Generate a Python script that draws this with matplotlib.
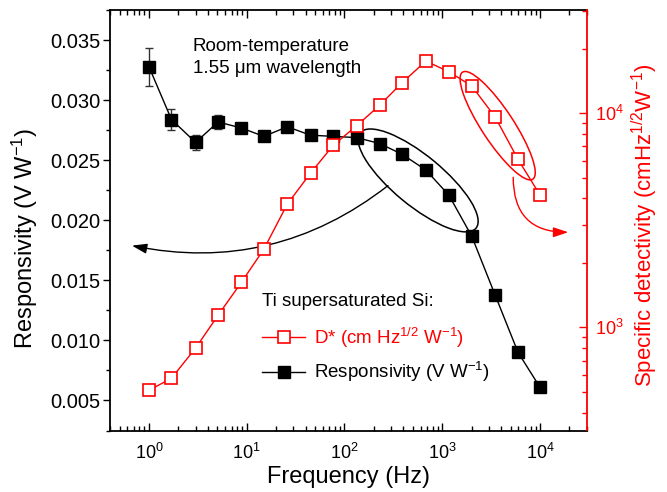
import numpy as np
import matplotlib.pyplot as plt
from matplotlib.patches import Ellipse
from matplotlib.lines import Line2D
from matplotlib.transforms import ScaledTranslation
from matplotlib.ticker import MultipleLocator, LogLocator, NullFormatter

plt.rcParams['font.family'] = ['Liberation Sans', 'DejaVu Sans']
plt.rcParams['mathtext.fontset'] = 'custom'
plt.rcParams['mathtext.rm'] = 'Liberation Sans'
plt.rcParams['mathtext.it'] = 'Liberation Sans:italic'
plt.rcParams['mathtext.bf'] = 'Liberation Sans:bold'

# data
freq = [1, 1.7, 3, 5.1, 8.8, 15, 26, 45, 77, 133, 230, 390, 680, 1170, 2000, 3470, 5970, 10000]
resp = [0.0328, 0.0284, 0.0265, 0.0282, 0.0277, 0.0270, 0.0278, 0.0271, 0.0270,
        0.0269, 0.0264, 0.0255, 0.0242, 0.0221, 0.0187, 0.0138, 0.0090, 0.0061]
resp_err = [0.0016, 0.0009, 0.0006, 0.0006, 0.0003, 0.0002, 0.0002, 0.0002, 0.0002,
            0.0002, 0.0002, 0.0002, 0.0002, 0.0002, 0.0002, 0.0002, 0.0002, 0.0002]
dstar = [508, 579, 800, 1140, 1620, 2320, 3760, 5250, 7090,
         8730, 10900, 13900, 17500, 15600, 13400, 9610, 6080, 4150]

RED = '#ff0000'

fig = plt.figure(figsize=(6.67, 4.92), dpi=100)
ax = fig.add_axes([0.165, 0.125, 0.7145, 0.854])
ax2 = ax.twinx()

# responsivity (left axis)
ax.errorbar(freq, resp, yerr=resp_err, fmt='s-', color='black', ms=9, lw=1,
            ecolor='#333333', elinewidth=1, capsize=3, capthick=1, zorder=3)
ax.set_xscale('log')
ax.set_xlim(0.4, 3e4)
ax.set_ylim(0.0025, 0.0375)
ax.yaxis.set_major_locator(MultipleLocator(0.005))
ax.yaxis.set_minor_locator(MultipleLocator(0.0025))
ax.yaxis.set_major_formatter(plt.FormatStrFormatter('%.3f'))
ax.xaxis.set_minor_locator(LogLocator(base=10, subs=np.arange(2, 10)))
ax.xaxis.set_minor_formatter(NullFormatter())
ax.tick_params(axis='x', which='both', direction='in', top=True, labelsize=13, pad=9)
ax.tick_params(axis='x', which='major', length=6, width=1)
ax.tick_params(axis='x', which='minor', length=3.5, width=1)
ax.tick_params(axis='y', which='both', direction='out', right=False, labelsize=14.5, pad=2)
ax.tick_params(axis='y', which='major', length=5, width=1)
ax.tick_params(axis='y', which='minor', length=3, width=1)
ax.set_xlabel('Frequency (Hz)', fontsize=17, labelpad=2)
ax.set_ylabel('Responsivity (V W$^{-1}$)', fontsize=17)
ax.yaxis.set_label_coords(-0.148, 0.458)
ax.spines['right'].set_visible(False)
for s in ['left', 'top', 'bottom']:
    ax.spines[s].set_linewidth(1.3)

# specific detectivity (right axis)
ax2.plot(freq, dstar, 's-', color=RED, mfc='white', mec=RED, ms=9, mew=1.2, lw=1)
ax2.set_yscale('log')
ax2.set_ylim(330, 30200)
ax2.yaxis.set_minor_locator(LogLocator(base=10, subs=np.arange(2, 10)))
ax2.yaxis.set_minor_formatter(NullFormatter())
ax2.tick_params(axis='y', which='both', direction='in', colors=RED, labelsize=13, pad=6)
ax2.tick_params(axis='y', which='major', length=6, width=1)
ax2.tick_params(axis='y', which='minor', length=3.5, width=1)
ax2.set_ylabel('Specific detectivity (cmHz$^{1/2}$W$^{-1}$)', color=RED, fontsize=16)
ax2.yaxis.set_label_coords(1.091, 0.489)
for s in ['left', 'top', 'bottom']:
    ax2.spines[s].set_visible(False)
ax2.spines['right'].set_color(RED)
ax2.spines['right'].set_linewidth(1.3)

# annotation text
ax.text(0.174, 0.935, 'Room-temperature\n1.55 \u03bcm wavelength', transform=ax.transAxes,
        fontsize=13.5, va='top', ha='left', linespacing=1.4)


def add_ellipse(axis, xc, yc, w_px, h_px, angle, color):
    tr = fig.dpi_scale_trans + ScaledTranslation(xc, yc, axis.transData)
    e = Ellipse((0, 0), w_px / 100, h_px / 100, angle=angle, transform=tr,
                fill=False, ec=color, lw=1.1, clip_on=False)
    axis.add_artist(e)


add_ellipse(ax, 567, 0.02333, 150, 50, -39.5, 'black')
add_ellipse(ax2, 3690, 8740, 128, 32, -56.7, RED)

ax.annotate('', xy=(0.67, 0.0179), xytext=(279, 0.0229),
            arrowprops=dict(arrowstyle='-|>,head_length=0.9,head_width=0.3',
                            connectionstyle='arc3,rad=-0.23', color='black', lw=1,
                            mutation_scale=10, shrinkA=0, shrinkB=0))
ax2.annotate('', xy=(19440, 2780), xytext=(5320, 5020),
             arrowprops=dict(arrowstyle='-|>,head_length=0.9,head_width=0.3',
                             connectionstyle='arc3,rad=0.5', color=RED, lw=1,
                             mutation_scale=10, shrinkA=0, shrinkB=0))

# legend
ax2.text(0.3187, 0.306, 'Ti supersaturated Si:', transform=ax2.transAxes,
         fontsize=13.5, va='center', ha='left')
handles = [Line2D([], [], color=RED, marker='s', mfc='white', mec=RED, ms=9, mew=1.2, lw=1),
           Line2D([], [], color='black', marker='s', ms=9, lw=1)]
labels = ['D* (cm Hz$^{1/2}$ W$^{-1}$)', 'Responsivity (V W$^{-1}$)']
leg = ax2.legend(handles, labels, loc='center left',
                 bbox_to_anchor=(0.3187, 0.18), frameon=False, fontsize=13.5,
                 borderpad=0, borderaxespad=0,
                 handlelength=2.3, handletextpad=0.45, labelspacing=0.55,
                 labelcolor=[RED, 'black'])

fig.savefig('out.png', dpi=100)
